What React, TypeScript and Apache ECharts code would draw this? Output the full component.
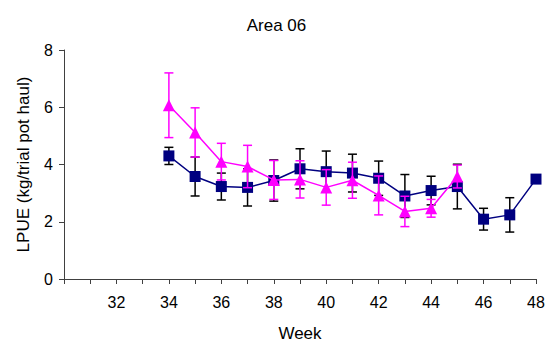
import React, { useEffect, useRef } from "react";
import * as echarts from "echarts";

const navyWeeks = [34, 35, 36, 37, 38, 39, 40, 41, 42, 43, 44, 45, 46, 47, 48];
const navyMean = [4.3, 3.58, 3.23, 3.2, 3.44, 3.85, 3.75, 3.7, 3.52, 2.9, 3.09, 3.23, 2.09, 2.24, 3.49];
const navyErr = [0.3, 0.68, 0.47, 0.65, 0.72, 0.7, 0.72, 0.66, 0.6, 0.75, 0.5, 0.78, 0.38, 0.6, 0];

const pinkWeeks = [34, 35, 36, 37, 38, 39, 40, 41, 42, 43, 44, 45];
const pinkMean = [6.07, 5.12, 4.1, 3.93, 3.46, 3.48, 3.2, 3.45, 2.92, 2.36, 2.47, 3.58];
const pinkErr = [1.13, 0.86, 0.64, 0.74, 0.68, 0.65, 0.62, 0.63, 0.68, 0.53, 0.31, 0.4];

const FONT = "'Liberation Sans', Arial, sans-serif";

function errorSeries(weeks: number[], mean: number[], err: number[], color: string, z: number) {
  const data = weeks
    .map((w, i) => [w, mean[i] - err[i], mean[i] + err[i]])
    .filter((d) => d[2] - d[1] > 0);
  return {
    type: "custom",
    z,
    silent: true,
    data,
    renderItem: (params: any, api: any) => {
      const x = api.value(0);
      const lo = api.coord([x, api.value(1)]);
      const hi = api.coord([x, api.value(2)]);
      const hw = 4.5;
      const style = { stroke: color, lineWidth: 1.5 };
      return {
        type: "group",
        children: [
          { type: "line", shape: { x1: lo[0], y1: lo[1], x2: hi[0], y2: hi[1] }, style },
          { type: "line", shape: { x1: lo[0] - hw, y1: lo[1], x2: lo[0] + hw, y2: lo[1] }, style },
          { type: "line", shape: { x1: hi[0] - hw, y1: hi[1], x2: hi[0] + hw, y2: hi[1] }, style },
        ],
      };
    },
  };
}

export default function App() {
  const ref = useRef<HTMLDivElement>(null);
  useEffect(() => {
    if (!ref.current) return;
    const chart = echarts.init(ref.current, null, { renderer: "svg" });
    const axisColor = "#404040";
    chart.setOption({
      animation: false,
      backgroundColor: "#ffffff",
      title: {
        text: "Area 06",
        left: "center",
        top: 12,
        textStyle: { fontFamily: FONT, fontSize: 17, fontWeight: "normal", color: "#000" },
      },
      grid: { left: 64, right: 17, top: 50, bottom: 70 },
      xAxis: {
        type: "value",
        min: 30,
        max: 48,
        interval: 1,
        name: "Week",
        nameLocation: "middle",
        nameGap: 46,
        nameTextStyle: { fontFamily: FONT, fontSize: 17, color: "#000" },
        axisLine: { show: true, lineStyle: { color: axisColor, width: 1 } },
        axisTick: { show: true, length: 5, lineStyle: { color: axisColor } },
        splitLine: { show: false },
        axisLabel: {
          fontFamily: FONT,
          fontSize: 16,
          color: "#000",
          margin: 15,
          formatter: (v: number) => (v % 2 === 0 && v > 30 ? String(v) : ""),
        },
      },
      yAxis: {
        type: "value",
        min: 0,
        max: 8,
        interval: 2,
        name: "LPUE (kg/trial pot haul)",
        nameLocation: "middle",
        nameGap: 32,
        nameTextStyle: { fontFamily: FONT, fontSize: 17, color: "#000" },
        axisLine: { show: true, lineStyle: { color: axisColor, width: 1 } },
        axisTick: { show: true, length: 5, lineStyle: { color: axisColor } },
        splitLine: { show: false },
        axisLabel: { fontFamily: FONT, fontSize: 16, color: "#000", margin: 11 },
      },
      series: [
        errorSeries(navyWeeks, navyMean, navyErr, "#000000", 1),
        {
          type: "line",
          z: 2,
          data: navyWeeks.map((w, i) => [w, navyMean[i]]),
          symbol: "rect",
          symbolSize: 11,
          lineStyle: { color: "#000080", width: 1.5 },
          itemStyle: { color: "#000080" },
        },
        errorSeries(pinkWeeks, pinkMean, pinkErr, "#FF00FF", 3),
        {
          type: "line",
          z: 4,
          data: pinkWeeks.map((w, i) => [w, pinkMean[i]]),
          symbol: "triangle",
          symbolSize: 12,
          lineStyle: { color: "#FF00FF", width: 1.5 },
          itemStyle: { color: "#FF00FF" },
        },
      ],
    });
    return () => chart.dispose();
  }, []);
  return (
    <div
      ref={ref}
      style={{ position: "fixed", left: 0, top: 0, width: 553, height: 349, background: "#fff" }}
    />
  );
}
